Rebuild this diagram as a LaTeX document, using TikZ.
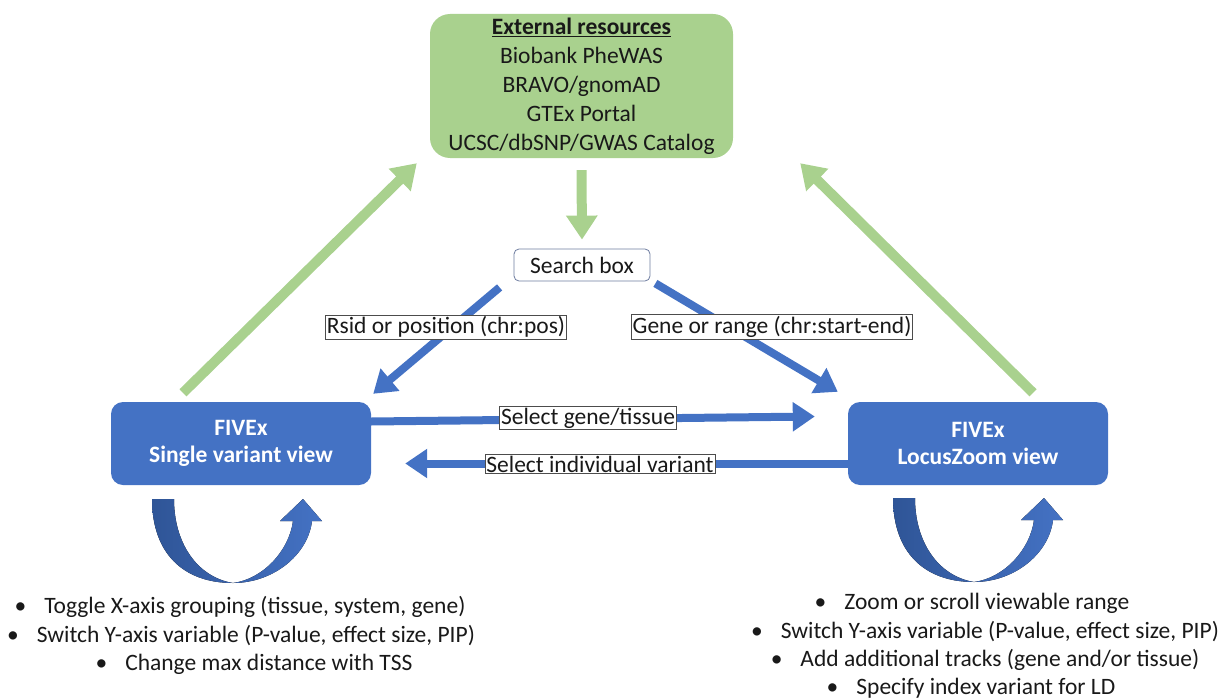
\documentclass[tikz,border=0pt]{standalone}
\usepackage{fontspec}
\setmainfont{Carlito}
\usetikzlibrary{arrows.meta}

\definecolor{resgreen}{HTML}{A9D18E}
\definecolor{viewblue}{HTML}{4472C4}
\definecolor{darkblue}{HTML}{2F5597}
\definecolor{boxline}{RGB}{110,125,160}

\tikzset{
	pics/uturn/.style = {code = {
		\fill[left color=darkblue, right color=viewblue]
			(-81,-84) .. controls (-81,-30) and (-50,0) .. (0,0)
			.. controls (40,0) and (75,-28) .. (79,-62)
			-- (89,-62) -- (70,-84) -- (47,-62) -- (60,-62)
			.. controls (56,-32) and (30,-4) .. (0,0)
			.. controls (-36,-6) and (-59,-40) .. (-59,-84) -- cycle;
	}}
}

\begin{document}
\begin{tikzpicture}[
			x = 1pt, y = -1pt,
			every node/.style = {font=\fontsize{23.5}{29}\selectfont, text=black!90},
			greenarrow/.style = {resgreen, line width=10pt, -{Triangle[width=30pt,length=24pt]}},
			bluearrow/.style = {viewblue, line width=8pt, -{Triangle[width=28pt,length=22pt]}},
			viewbox/.style = {fill=viewblue, rounded corners=12pt, minimum width=260pt, minimum height=83pt, text=white, font=\fontsize{23.5}{27}\selectfont\bfseries, align=center},
			edgelabel/.style = {draw=black!70, fill=white, line width=0.8pt, inner sep=1.5pt}
		]

		\useasboundingbox (0,0) rectangle (1225,698);

		\node[fill=resgreen, rounded corners=20pt, minimum width=303pt, minimum height=144pt, align=center] (ext) at (581.5,86)
			{\underline{\textbf{External resources}}\\Biobank PheWAS\\BRAVO/gnomAD\\GTEx Portal\\UCSC/dbSNP/GWAS Catalog};
		\node[draw=boxline, fill=white, rounded corners=5pt, line width=0.8pt, minimum width=136pt, minimum height=32pt, inner sep=0pt] (search) at (582,265) {Search box};

		\node[viewbox] (single) at (241,443.5) {FIVEx\\Single variant view};
		\node[viewbox] (locus) at (978,443.5) {FIVEx\\LocusZoom view};

		\draw[greenarrow] ([xshift=-58pt,yshift=9pt]single.north) -- ([xshift=-13pt,yshift=-5pt]ext.south west);
		\draw[greenarrow] ([xshift=55pt,yshift=9pt]locus.north) -- ([xshift=67pt,yshift=-5pt]ext.south east);
		\draw[greenarrow] ([yshift=-12pt]ext.south) -- ([yshift=9pt]search.north);

		\draw[bluearrow] ([xshift=-14pt,yshift=-6pt]search.south west) -- ([xshift=2pt,yshift=8pt]single.north east);
		\draw[bluearrow] ([xshift=5pt,yshift=-2pt]search.south east) -- ([xshift=-10pt,yshift=10pt]locus.north west);
		\draw[bluearrow] ([yshift=22pt]single.east) -- ([xshift=-33pt,yshift=27pt]locus.west);
		\draw[bluearrow] ([yshift=-20pt]locus.west) -- ([xshift=34pt,yshift=-20pt]single.east);

		\node[edgelabel] (rsid) at (446,327) {Rsid or position (chr:pos)};
		\node[edgelabel] (range) at (772,327) {Gene or range (chr:start-end)};
		\node[edgelabel] (seltissue) at (588,418) {Select gene/tissue};
		\node[edgelabel] (selvariant) at (600,464) {Select individual variant};

		\pic at (233,583) {uturn};
		\pic at (974,582) {uturn};

		\node (sv1) at (240,607) {\textbullet\hspace{18pt}Toggle X-axis grouping (tissue, system, gene)};
		\node (sv2) at (241,636) {\textbullet\hspace{18pt}Switch Y-axis variable (P-value, effect size, PIP)};
		\node (sv3) at (254,664) {\textbullet\hspace{18pt}Change max distance with TSS};

		\node (lz1) at (972,603) {\textbullet\hspace{18pt}Zoom or scroll viewable range};
		\node (lz2) at (985,632) {\textbullet\hspace{18pt}Switch Y-axis variable (P-value, effect size, PIP)};
		\node (lz3) at (985,660) {\textbullet\hspace{18pt}Add additional tracks (gene and/or tissue)};
		\node (lz4) at (971,688) {\textbullet\hspace{18pt}Specify index variant for LD};

		\end{tikzpicture}
\end{document}
